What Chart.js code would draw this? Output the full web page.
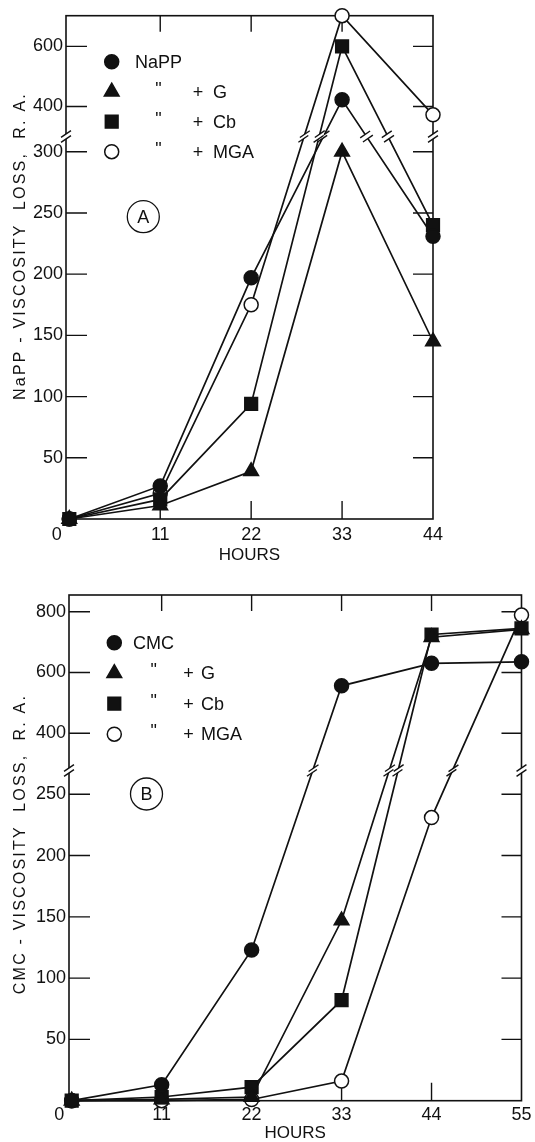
<!DOCTYPE html>
<html>
<head>
<meta charset="utf-8">
<script src="https://cdn.jsdelivr.net/npm/chart.js@4.4.1/dist/chart.umd.min.js"></script>
<style>
  html, body { margin: 0; padding: 0; background: #fff; }
  body { width: 535px; height: 1142px; position: relative; overflow: hidden; }
  canvas { position: absolute; left: 0; }
  #chartA { top: 0; }
  #chartB { top: 571px; }
</style>
</head>
<body>
<canvas id="chartA" width="535" height="571"></canvas>
<canvas id="chartB" width="535" height="571"></canvas>
<script>
// x values (hours)
const hoursA = [0, 11, 22, 33, 44];
const hoursB = [0, 11, 22, 33, 44, 55];

// panel A - NaPP viscosity loss, R.A.
const nappPlain = [0, 27, 197, 422, 231];
const nappG = [0, 11, 39, 300, 145];
const nappCb = [0, 16, 94, 600, 240];
const nappMGA = [0, 21, 175, 702, 372];

// panel B - CMC viscosity loss, R.A.
const cmcPlain = [0, 13, 123, 556, 630, 635];
const cmcG = [0, 1, 3, 147, 716, 742];
const cmcCb = [0, 3, 11, 82, 725, 745];
const cmcMGA = [0, 0, 1, 16, 231, 789];

const additives = ['G', 'Cb', 'MGA'];
const yTicksA = [50, 100, 150, 200, 250, 300, 400, 600];
const yTicksB = [50, 100, 150, 200, 250, 400, 600, 800];

Chart.defaults.font.family = '"Liberation Sans", Arial, sans-serif';
Chart.defaults.color = '#111';

// linear axis with a break: lower part and compressed upper part
class BrokenScale extends Chart.LinearScale {
  static id = 'broken';
  determineDataLimits() {
    this.min = 0;
    this.max = this.options.max;
  }
  buildTicks() {
    return this.options.tickValues.map(v => ({ value: v }));
  }
  toFraction(v) {
    const b = this.options.broken;
    if (v <= b.low) return v / b.low * b.lowFrac;
    if (v >= b.high) return b.highFrac + (v - b.high) / (this.max - b.high) * (1 - b.highFrac);
    return b.lowFrac + (v - b.low) / (b.high - b.low) * (b.highFrac - b.lowFrac);
  }
  getPixelForValue(v) {
    return this.getPixelForDecimal(this.toFraction(v));
  }
  getValueForPixel(p) {
    const b = this.options.broken;
    const d = this.getDecimalForPixel(p);
    if (d <= b.lowFrac) return d / b.lowFrac * b.low;
    if (d >= b.highFrac) return b.high + (d - b.highFrac) / (1 - b.highFrac) * (this.max - b.high);
    return b.low;
  }
  breakPixel() {
    const b = this.options.broken;
    return this.getPixelForDecimal((b.lowFrac + b.highFrac) / 2);
  }
}
Chart.register(BrokenScale);

function breakMark(ctx, px, py, dx, dy) {
  const sx = Math.cos(-0.6), sy = Math.sin(-0.6);
  const half = 2.5, len = 6;
  ctx.save();
  ctx.fillStyle = '#fff';
  ctx.beginPath();
  ctx.moveTo(px - dx * half - sx * len, py - dy * half - sy * len);
  ctx.lineTo(px - dx * half + sx * len, py - dy * half + sy * len);
  ctx.lineTo(px + dx * half + sx * len, py + dy * half + sy * len);
  ctx.lineTo(px + dx * half - sx * len, py + dy * half - sy * len);
  ctx.closePath();
  ctx.fill();
  ctx.strokeStyle = '#111';
  ctx.lineWidth = 1.4;
  [-half, half].forEach(k => {
    ctx.beginPath();
    ctx.moveTo(px + dx * k - sx * len, py + dy * k - sy * len);
    ctx.lineTo(px + dx * k + sx * len, py + dy * k + sy * len);
    ctx.stroke();
  });
  ctx.restore();
}

const decorPlugin = {
  id: 'decor',
  beforeDatasetsDraw(chart) {
    const { ctx, chartArea: a, scales: { x, y } } = chart;
    ctx.save();
    ctx.strokeStyle = '#111';
    ctx.lineWidth = 1.6;
    ctx.strokeRect(a.left, a.top, a.right - a.left, a.bottom - a.top);
    ctx.lineWidth = 1.4;
    ctx.beginPath();
    y.ticks.forEach(t => {
      const py = y.getPixelForValue(t.value);
      ctx.moveTo(a.left, py); ctx.lineTo(a.left + 21, py);
      ctx.moveTo(a.right - 20, py); ctx.lineTo(a.right, py);
    });
    x.ticks.forEach(t => {
      if (t.value <= 0 || t.value >= x.max) return;
      const px = x.getPixelForValue(t.value);
      ctx.moveTo(px, a.top); ctx.lineTo(px, a.top + 16);
      ctx.moveTo(px, a.bottom); ctx.lineTo(px, a.bottom - 18);
    });
    ctx.stroke();
    const yb = y.breakPixel();
    breakMark(ctx, a.left, yb, 0, 1);
    breakMark(ctx, a.right, yb, 0, 1);
    ctx.restore();
  },
  afterDatasetsDraw(chart) {
    const { ctx, scales: { y } } = chart;
    const b = y.options.broken;
    const yb = y.breakPixel();
    chart.data.datasets.forEach((ds, di) => {
      const pts = chart.getDatasetMeta(di).data;
      for (let i = 0; i < ds.data.length - 1; i++) {
        const v1 = ds.data[i], v2 = ds.data[i + 1];
        const crosses = (v1 <= b.low && v2 > b.high) || (v2 <= b.low && v1 > b.high);
        if (!crosses) continue;
        const p1 = pts[i], p2 = pts[i + 1];
        const t = (yb - p1.y) / (p2.y - p1.y);
        const px = p1.x + t * (p2.x - p1.x);
        const len = Math.hypot(p2.x - p1.x, p2.y - p1.y);
        breakMark(ctx, px, yb, (p2.x - p1.x) / len, (p2.y - p1.y) / len);
      }
    });
  },
  afterDraw(chart, args, opts) {
    const { ctx } = chart;
    ctx.save();
    ctx.fillStyle = '#111';
    ctx.strokeStyle = '#111';
    // legend
    const lg = opts.legend;
    ctx.font = '18px "Liberation Sans", Arial, sans-serif';
    ctx.textBaseline = 'middle';
    chart.data.datasets.forEach((ds, i) => {
      const ry = lg.y + i * lg.gap;
      ctx.fillStyle = ds.pointBackgroundColor;
      ctx.lineWidth = ds.pointBorderWidth;
      Chart.helpers.drawPoint(ctx, {
        pointStyle: ds.pointStyle, radius: ds.pointRadius, rotation: 0, borderWidth: ds.pointBorderWidth
      }, lg.markerX, ry);
      ctx.fillStyle = '#111';
      if (i === 0) {
        ctx.textAlign = 'left';
        ctx.fillText(lg.polymer, lg.textX, ry + 1);
      } else {
        ctx.textAlign = 'center';
        ctx.fillText('"', lg.dittoX, ry - 2);
        ctx.fillText('+', lg.plusX, ry + 1);
        ctx.textAlign = 'left';
        ctx.fillText(additives[i - 1], lg.nameX, ry + 1);
      }
    });
    // panel letter in a circle
    const c = opts.badge;
    ctx.lineWidth = 1.3;
    ctx.beginPath();
    ctx.arc(c.x, c.y, 16, 0, Math.PI * 2);
    ctx.stroke();
    ctx.textAlign = 'center';
    ctx.fillText(c.text, c.x, c.y + 1);
    // y axis title
    const t = opts.yTitle;
    ctx.translate(t.x, t.y);
    ctx.rotate(-Math.PI / 2);
    ctx.font = '16px "Liberation Sans", Arial, sans-serif';
    ctx.letterSpacing = '2.2px';
    ctx.fillText(t.text, 0, 0);
    ctx.restore();
  }
};

function makeDatasets(polymer, series) {
  const styles = [
    { pointStyle: 'circle', pointRadius: 7, pointBackgroundColor: '#111' },
    { pointStyle: 'triangle', pointRadius: 8.5, pointBackgroundColor: '#111' },
    { pointStyle: 'rect', pointRadius: 9, pointBackgroundColor: '#111' },
    { pointStyle: 'circle', pointRadius: 7, pointBackgroundColor: '#fff' }
  ];
  const labels = [polymer].concat(additives.map(a => polymer + ' + ' + a));
  return series.map((data, i) => Object.assign({
    label: labels[i],
    data: data,
    borderColor: '#111',
    borderWidth: 1.7,
    pointBorderColor: '#111',
    pointBorderWidth: 1.5,
    pointHoverRadius: 7,
    tension: 0,
    clip: false
  }, styles[i]));
}

function makeChart(canvas, cfg) {
  return new Chart(canvas.getContext('2d'), {
    type: 'line',
    data: { labels: cfg.hours, datasets: makeDatasets(cfg.polymer, cfg.series) },
    options: {
      responsive: false,
      animation: false,
      devicePixelRatio: 1,
      layout: { padding: cfg.padding },
      plugins: {
        legend: { display: false },
        tooltip: { enabled: false },
        decor: {
          legend: Object.assign({ polymer: cfg.polymer }, cfg.legend),
          badge: cfg.badge,
          yTitle: cfg.yTitle
        }
      },
      scales: {
        x: {
          type: 'linear',
          min: cfg.xMin,
          max: cfg.hours[cfg.hours.length - 1],
          afterBuildTicks: s => { s.ticks = cfg.hours.map(v => ({ value: v })); },
          afterFit: s => { s.height = cfg.xHeight; },
          grid: { display: false, drawTicks: false },
          border: { display: false },
          ticks: {
            autoSkip: false,
            maxRotation: 0,
            padding: cfg.xPad,
            font: { size: 18 },
            color: '#111',
            callback: v => (v === 0 ? '0     ' : String(v))
          },
          title: {
            display: true,
            text: 'HOURS',
            color: '#111',
            font: { size: 17, lineHeight: 1 },
            padding: { top: 0, bottom: cfg.titlePad }
          }
        },
        y: {
          type: 'broken',
          max: cfg.yMax,
          tickValues: cfg.yTicks,
          broken: cfg.broken,
          afterFit: s => { s.width = cfg.yWidth; },
          grid: { display: false, drawTicks: false },
          border: { display: false },
          ticks: {
            padding: 3,
            font: { size: 18 },
            color: '#111',
            callback: v => String(v)
          }
        }
      }
    },
    plugins: [decorPlugin]
  });
}

makeChart(document.getElementById('chartA'), {
  hours: hoursA,
  polymer: 'NaPP',
  series: [nappPlain, nappG, nappCb, nappMGA],
  padding: { left: 0, top: 15.7, right: 102, bottom: 0 },
  xMin: -0.4,
  xHeight: 52,
  xPad: 5,
  titlePad: 7.5,
  yWidth: 66,
  yMax: 702,
  yTicks: yTicksA,
  broken: { low: 310, high: 310.01, lowFrac: 0.754, highFrac: 0.766 },
  legend: { markerX: 111.7, y: 61.7, gap: 30, textX: 135, dittoX: 158.5, plusX: 198, nameX: 213 },
  badge: { x: 143.3, y: 216.7, text: 'A' },
  yTitle: { x: 21, y: 246, text: 'NaPP - VISCOSITY  LOSS,  R. A.' }
});

makeChart(document.getElementById('chartB'), {
  hours: hoursB,
  polymer: 'CMC',
  series: [cmcPlain, cmcG, cmcCb, cmcMGA],
  padding: { left: 0, top: 24, right: 11, bottom: 0 },
  xMin: -0.33,
  xHeight: 41.3,
  xPad: 3.5,
  titlePad: 0.2,
  yWidth: 69,
  yMax: 855,
  yTicks: yTicksB,
  broken: { low: 269, high: 279, lowFrac: 0.652, highFrac: 0.654 },
  legend: { markerX: 114.3, y: 71.7, gap: 30.5, textX: 133, dittoX: 153.6, plusX: 188.5, nameX: 201 },
  badge: { x: 146.5, y: 223, text: 'B' },
  yTitle: { x: 21, y: 273, text: 'CMC - VISCOSITY  LOSS,  R. A.' }
});
</script>
</body>
</html>
